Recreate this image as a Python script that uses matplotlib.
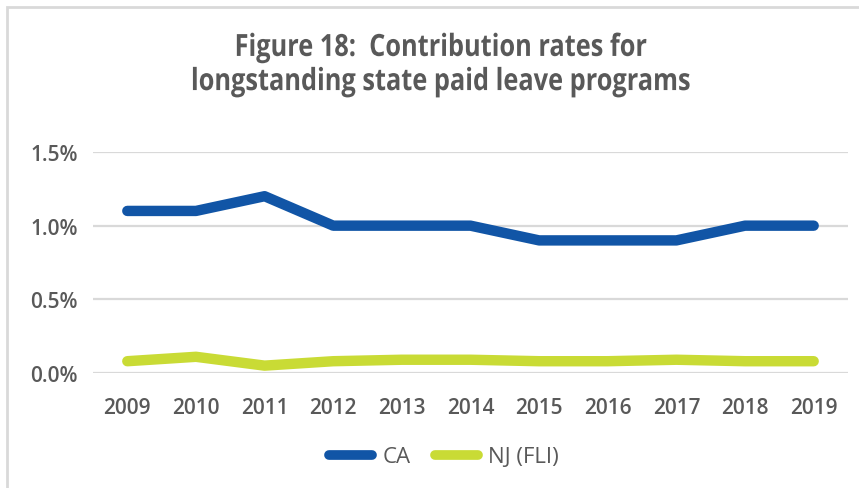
import matplotlib
matplotlib.use("Agg")
import matplotlib.pyplot as plt
from matplotlib.patches import Rectangle
from matplotlib.ticker import FuncFormatter
from matplotlib.patheffects import AbstractPathEffect
from matplotlib.transforms import Affine2D

years = ["2009", "2010", "2011", "2012", "2013", "2014", "2015", "2016", "2017", "2018", "2019"]
ca = [1.1, 1.1, 1.2, 1.0, 1.0, 1.0, 0.9, 0.9, 0.9, 1.0, 1.0]
nj = [0.08, 0.11, 0.05, 0.08, 0.09, 0.09, 0.08, 0.08, 0.09, 0.08, 0.08]
series_names = ["CA", "NJ (FLI)"]
title = "Figure 18:  Contribution rates for\nlongstanding state paid leave programs"

W, H = 859, 489
fig = plt.figure(figsize=(W / 100, H / 100), dpi=100)
fig.patch.set_facecolor("white")


class HCondense(AbstractPathEffect):
    """Horizontally condense text around a display x-centre (mimics a condensed face)."""
    def __init__(self, sx, cx):
        super().__init__()
        self.sx = sx
        self.cx = cx

    def draw_path(self, renderer, gc, tpath, affine, rgbFace=None):
        t = affine + Affine2D().translate(-self.cx, 0).scale(self.sx, 1).translate(self.cx, 0)
        renderer.draw_path(gc, tpath, t, rgbFace)


# outer frame (cut off at right and bottom)
fig.patches.append(Rectangle((7 / W, -0.1), 1.2, (H - 8) / H + 0.1, transform=fig.transFigure,
                             fill=False, edgecolor="#D9D9D9", linewidth=2))

ax = fig.add_axes([93 / W, (H - 374) / H, (848 - 93) / W, (374 - 153) / H])
x = list(range(len(years)))
ax.plot(x, ca, color="#1155A6", lw=7.5, solid_capstyle="round", solid_joinstyle="round",
        label=series_names[0], zorder=3)
ax.plot(x, nj, color="#C9DB35", lw=7.5, solid_capstyle="round", solid_joinstyle="round",
        label=series_names[1], zorder=3)

ax.set_xlim(-0.5, len(years) - 0.5)
ax.set_ylim(0, 1.5)
ax.set_yticks([0, 0.5, 1.0, 1.5])
ax.yaxis.set_major_formatter(FuncFormatter(lambda v, p: f"{v:.1f}%"))
ax.set_xticks(x)
ax.set_xticklabels(years)
ax.grid(axis="y", color="#D9D9D9", lw=1.6, zorder=0)
ax.set_axisbelow(True)
for s in ax.spines.values():
    s.set_visible(False)
ax.tick_params(length=0, colors="#595959")
for lab in ax.get_yticklabels() + ax.get_xticklabels():
    lab.set_fontfamily("Open Sans")
    lab.set_fontweight("semibold")
    lab.set_fontsize(15)
ax.tick_params(axis="y", pad=11)
ax.tick_params(axis="x", pad=17.5)

t = fig.text(440 / W, 1 - 66 / H, title, ha="center", va="center", fontsize=22,
             fontweight="bold", family="Open Sans", color="#595959", linespacing=1.18)
t.set_path_effects([HCondense(0.83, 440)])

leg = fig.legend(loc="center", bbox_to_anchor=(444 / W, 1 - 458 / H), ncol=2, frameon=False,
                 prop={"family": "Open Sans", "size": 16}, handlelength=1.95, handletextpad=0.45,
                 columnspacing=1.1)
for tx in leg.get_texts():
    tx.set_color("#595959")
for h in leg.get_lines():
    h.set_solid_capstyle("round")
    h.set_linewidth(7)

fig.savefig("out.png", dpi=100)
